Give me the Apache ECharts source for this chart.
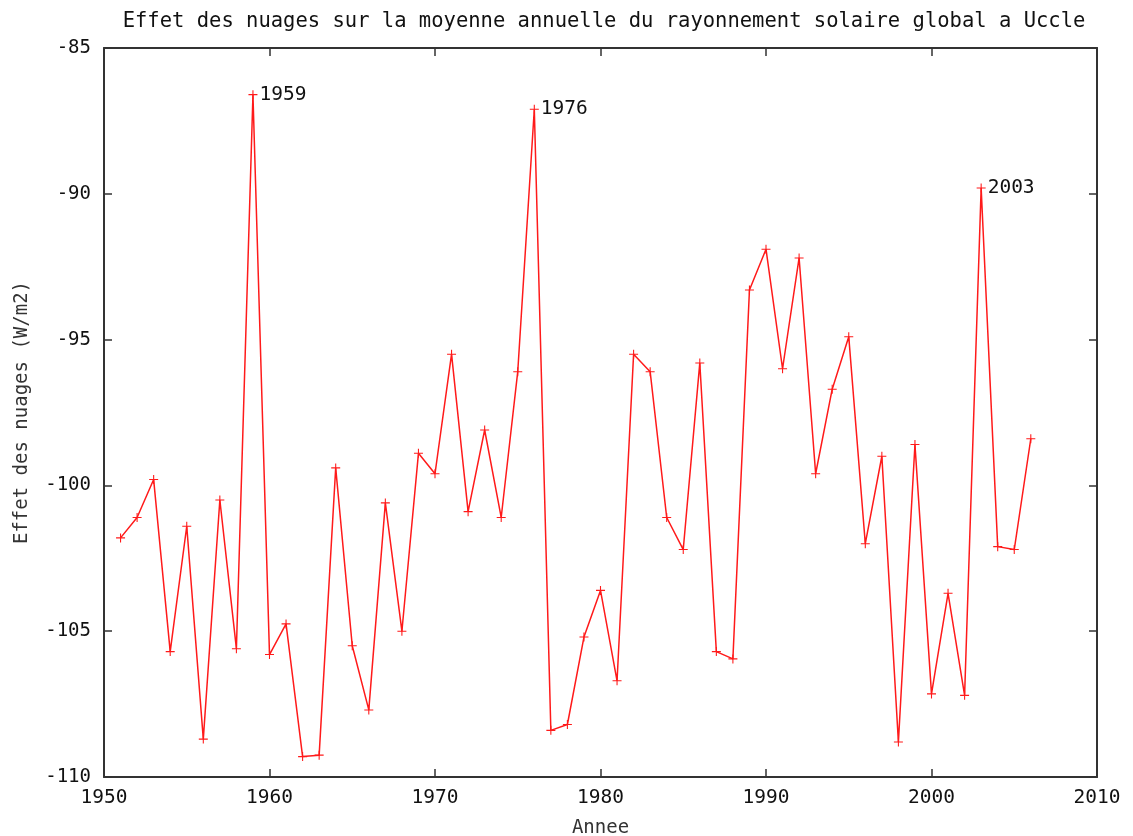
<!DOCTYPE html>
<html>
<head>
<meta charset="utf-8">
<script src="https://cdn.jsdelivr.net/npm/echarts@6/dist/echarts.min.js"></script>
<style>
  html, body { margin: 0; padding: 0; background: #fff; }
  #chart { width: 1133px; height: 836px; }
</style>
</head>
<body>
<div id="chart"></div>
<script>
// années et effet des nuages (W/m2)
var years = [1951, 1952, 1953, 1954, 1955, 1956, 1957, 1958, 1959, 1960,
  1961, 1962, 1963, 1964, 1965, 1966, 1967, 1968, 1969, 1970,
  1971, 1972, 1973, 1974, 1975, 1976, 1977, 1978, 1979, 1980,
  1981, 1982, 1983, 1984, 1985, 1986, 1987, 1988, 1989, 1990,
  1991, 1992, 1993, 1994, 1995, 1996, 1997, 1998, 1999, 2000,
  2001, 2002, 2003, 2004, 2005, 2006];
var effet = [-101.8, -101.1, -99.8, -105.7, -101.4, -108.7, -100.5, -105.6, -86.6, -105.8,
  -104.75, -109.3, -109.25, -99.4, -105.5, -107.7, -100.6, -105.0, -98.9, -99.6,
  -95.5, -100.9, -98.1, -101.1, -96.1, -87.1, -108.4, -108.2, -105.2, -103.6,
  -106.7, -95.5, -96.1, -101.1, -102.2, -95.8, -105.7, -105.95, -93.3, -91.9,
  -96.0, -92.2, -99.6, -96.7, -94.9, -102.0, -99.0, -108.8, -98.6, -107.15,
  -103.7, -107.2, -89.8, -102.1, -102.2, -98.4];
// années annotées
var annotated = [1959, 1976, 2003];

var font = "'DejaVu Sans Mono', 'Liberation Mono', monospace";
var axisColor = "#333";

var myChart = echarts.init(document.getElementById("chart"));

var points = years.map(function (y, i) {
  var item = { value: [y, effet[i]] };
  if (annotated.indexOf(y) >= 0) {
    item.label = {
      show: true,
      position: "right",
      formatter: String(y),
      color: "#111",
      fontFamily: font,
      fontSize: 19.5,
      offset: [-3, 0],
    };
  }
  return item;
});

// symbole "+" façon gnuplot
var plus = "path://M4.4,0h1.2v4.4h4.4v1.2h-4.4v4.4h-1.2v-4.4h-4.4v-1.2h4.4z";

var option = {
  backgroundColor: "#fff",
  animation: false,
  title: {
    text: "Effet des nuages sur la moyenne annuelle du rayonnement solaire global a Uccle",
    left: 599,
    top: 6,
    textAlign: "center",
    textStyle: {
      fontFamily: font,
      fontSize: 20.5,
      fontWeight: "normal",
      color: "#111",
    },
  },
  grid: { left: 104, right: 36, top: 48, bottom: 59, outerBoundsMode: "none", containLabel: false },
  xAxis: [
    {
      type: "value",
      min: 1950,
      max: 2010,
      interval: 10,
      name: "Annee",
      nameLocation: "middle",
      nameGap: 42,
      nameTextStyle: { fontFamily: font, fontSize: 19, color: "#333" },
      axisLine: { onZero: false, lineStyle: { color: axisColor, width: 2 } },
      axisTick: { inside: true, length: 8, lineStyle: { color: axisColor, width: 1.5 } },
      axisLabel: {
        fontFamily: font, fontSize: 19.5, color: "#111", margin: 11,
        formatter: function (v) { return String(v); },
      },
      splitLine: { show: false },
    },
    {
      type: "value",
      position: "top",
      min: 1950,
      max: 2010,
      interval: 10,
      axisLine: { onZero: false, lineStyle: { color: axisColor, width: 2 } },
      axisTick: { inside: true, length: 8, lineStyle: { color: axisColor, width: 1.5 } },
      axisLabel: { show: false },
      splitLine: { show: false },
    },
  ],
  yAxis: [
    {
      type: "value",
      min: -110,
      max: -85,
      interval: 5,
      name: "Effet des nuages (W/m2)",
      nameLocation: "middle",
      nameGap: 72,
      nameRotate: 90,
      nameTextStyle: { fontFamily: font, fontSize: 19, color: "#333" },
      axisLine: { onZero: false, lineStyle: { color: axisColor, width: 2 } },
      axisTick: { inside: true, length: 8, lineStyle: { color: axisColor, width: 1.5 } },
      axisLabel: { fontFamily: font, fontSize: 19, color: "#111", margin: 13 },
      splitLine: { show: false },
    },
    {
      type: "value",
      position: "right",
      min: -110,
      max: -85,
      interval: 5,
      axisLine: { onZero: false, lineStyle: { color: axisColor, width: 2 } },
      axisTick: { inside: true, length: 8, lineStyle: { color: axisColor, width: 1.5 } },
      axisLabel: { show: false },
      splitLine: { show: false },
    },
  ],
  series: [
    {
      type: "line",
      xAxisIndex: 0,
      yAxisIndex: 0,
      data: points,
      symbol: plus,
      symbolSize: 9,
      showAllSymbol: true,
      lineStyle: { color: "#ff1a1a", width: 1.5 },
      itemStyle: { color: "#ff1a1a" },
    },
  ],
};
myChart.setOption(option);
</script>
</body>
</html>
